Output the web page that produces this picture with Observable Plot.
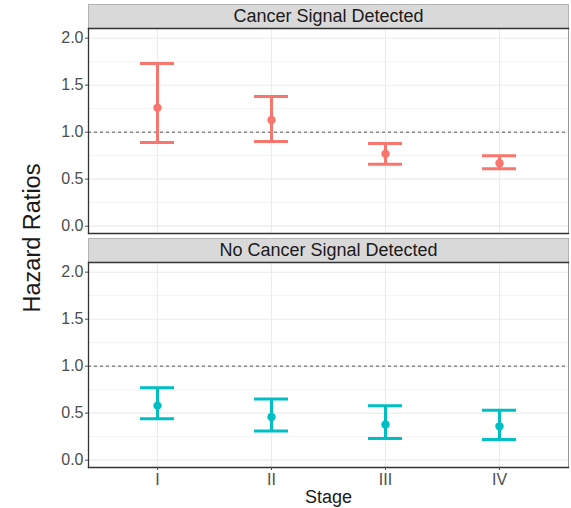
<!DOCTYPE html>
<html>
<head>
<meta charset="utf-8">
<script src="https://cdn.jsdelivr.net/npm/d3@7"></script>
<script src="https://cdn.jsdelivr.net/npm/@observablehq/plot@0.6"></script>
<style>
  html, body { margin: 0; padding: 0; background: #fff; }
  #chart { width: 571px; height: 508px; }
</style>
</head>
<body>
<div id="chart"></div>
<script>
// ---- data ----
const stages = ["I", "II", "III", "IV"];
const groups = ["Cancer Signal Detected", "No Cancer Signal Detected"];
const hrDetected = [1.26, 1.13, 0.77, 0.67];
const loDetected = [0.89, 0.90, 0.66, 0.61];
const hiDetected = [1.73, 1.38, 0.88, 0.75];
const hrNotDetected = [0.58, 0.46, 0.38, 0.36];
const loNotDetected = [0.44, 0.31, 0.23, 0.22];
const hiNotDetected = [0.77, 0.65, 0.58, 0.53];
const yTicks = [0, 0.5, 1.0, 1.5, 2.0];
const yMinorTicks = [0.25, 0.75, 1.25, 1.75];
const referenceLine = [1];
const groupColors = ["#F8766D", "#00BFC4"];
const yLabel = "Hazard Ratios";
const xLabel = "Stage";

// ---- table ----
const series = [
  {hr: hrDetected, lo: loDetected, hi: hiDetected},
  {hr: hrNotDetected, lo: loNotDetected, hi: hiNotDetected}
];
const rows = groups.flatMap((g, gi) => stages.map((s, i) => ({
  group: g, stage: s, hr: series[gi].hr[i], lo: series[gi].lo[i], hi: series[gi].hi[i]
})));

const font = "'Liberation Sans', Arial, Helvetica, sans-serif";

const chart = Plot.plot({
  width: 571,
  height: 508,
  marginLeft: 88,
  marginRight: 3,
  marginTop: 28,
  marginBottom: 41,
  style: {fontFamily: font, background: "#fff", overflow: "visible"},
  x: {type: "band", domain: stages, paddingInner: 0.7025, paddingOuter: 0.4512, label: null},
  y: {domain: [-0.078, 2.103], label: null},
  fy: {domain: groups, paddingInner: 0.124, paddingOuter: 0, axis: null, label: null},
  color: {domain: groups, range: groupColors},
  marks: [
    // strip backgrounds
    Plot.frame({insetTop: -24, insetBottom: 205, fill: "#d9d9d9", stroke: "#b3b3b3", strokeWidth: 1}),
    // grid
    Plot.gridY(yMinorTicks, {stroke: "#ebebeb", strokeOpacity: 1, strokeWidth: 0.6}),
    Plot.gridY(yTicks, {stroke: "#ebebeb", strokeOpacity: 1, strokeWidth: 1.1}),
    Plot.gridX(stages, {stroke: "#ebebeb", strokeOpacity: 1, strokeWidth: 1.1}),
    // reference line
    Plot.ruleY(referenceLine, {stroke: "#555", strokeWidth: 1, strokeDasharray: "3,3"}),
    // error bars
    Plot.ruleX(rows, {x: "stage", y1: "lo", y2: "hi", fy: "group", stroke: "group", strokeWidth: 3}),
    Plot.tickY(rows, {x: "stage", y: "lo", fy: "group", stroke: "group", strokeWidth: 3}),
    Plot.tickY(rows, {x: "stage", y: "hi", fy: "group", stroke: "group", strokeWidth: 3}),
    Plot.dot(rows, {x: "stage", y: "hr", fy: "group", fill: "group", r: 4.2, stroke: null}),
    // panel borders
    Plot.frame({stroke: "#999", strokeWidth: 1}),
    Plot.frame({anchor: "left", stroke: "#333", strokeWidth: 1.3}),
    Plot.frame({anchor: "bottom", stroke: "#333", strokeWidth: 1.3}),
    Plot.frame({anchor: "top", stroke: "#333", strokeWidth: 1.3}),
    // axes
    Plot.axisY(yTicks, {tickFormat: d3.format(".1f"), tickSize: 3, tickPadding: 2, fontSize: 16, color: "#4d4d4d", label: null}),
    Plot.axisX(stages, {tickSize: 3, tickPadding: 3, fontSize: 16, color: "#4d4d4d", label: null}),
    // strip labels
    Plot.text(groups, {fy: d => d, text: d => d, frameAnchor: "top", dy: -12, lineAnchor: "middle", fontSize: 18, fill: "#1a1a1a"}),
    // axis titles
    Plot.text([xLabel], {fy: [groups[1]], text: d => d, frameAnchor: "bottom", dy: 30, lineAnchor: "middle", fontSize: 18, fill: "#1a1a1a"}),
    Plot.text([yLabel], {fy: [groups[0]], text: d => d, frameAnchor: "bottom-left", dx: -56.5, dy: 4.5, rotate: -90, textAnchor: "middle", lineAnchor: "middle", fontSize: 23.5, fill: "#1a1a1a"})
  ]
});
document.getElementById("chart").appendChild(chart);
</script>
</body>
</html>
